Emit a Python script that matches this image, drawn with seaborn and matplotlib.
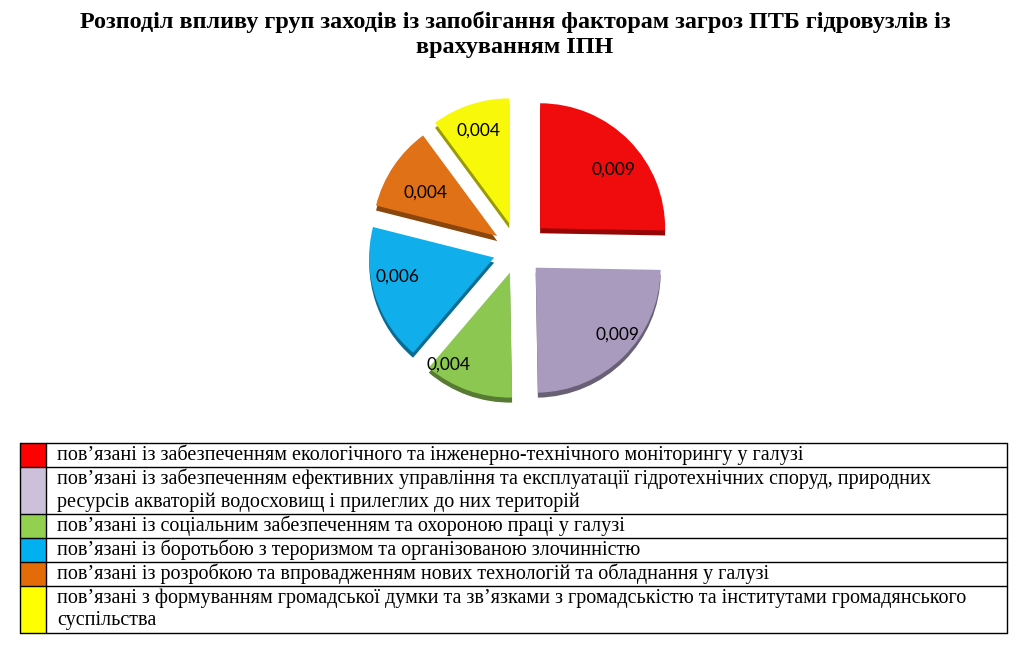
import numpy as np
import matplotlib
matplotlib.use("Agg")
import matplotlib.pyplot as plt
import matplotlib.colors as mcolors
from matplotlib.patches import Rectangle
import seaborn as sns

# ---------------- data ----------------
title_lines = ["Розподіл впливу груп заходів із запобігання факторам загроз ПТБ гідровузлів із",
               "врахуванням ІПН"]
categories = [
    ["пов’язані із забезпеченням екологічного та інженерно-технічного моніторингу у галузі"],
    ["пов’язані із забезпеченням ефективних управління та експлуатації гідротехнічних споруд, природних",
     "ресурсів акваторій водосховищ і прилеглих до них територій"],
    ["пов’язані із соціальним забезпеченням та охороною праці у галузі"],
    ["пов’язані із боротьбою з тероризмом та організованою злочинністю"],
    ["пов’язані із розробкою та впровадженням нових технологій та обладнання у галузі"],
    ["пов’язані з формуванням громадської думки та зв’язками з громадськістю та інститутами громадянського",
     "суспільства"],
]
values = [0.0090, 0.0087, 0.0041, 0.0063, 0.0039, 0.0036]
slice_colors = ["#F00C0C", "#A99BBE", "#8CC751", "#10AEEA", "#E07117", "#F8F80A"]
legend_colors = ["#FF0000", "#CCC0DA", "#92D050", "#00B0F0", "#E36C09", "#FFFF00"]

# ---------------- style ----------------
sns.set_theme(style="white")
plt.rcParams['font.family'] = ['Liberation Serif', 'DejaVu Serif']
plt.rcParams['text.color'] = 'black'

W, H = 1027, 648
fig = plt.figure(figsize=(W / 100, H / 100), dpi=100)
fig.patch.set_facecolor("white")
ax = fig.add_axes([0, 0, 1, 1])

# ---------------- pie ----------------
cx, cy = 518, H - 250
R = 125
explode = [31, 25, 24, 25, 25, 28]
label_nudge = [(4, -10), (13, 2), (-29, 0), (-4, 11), (9, -11), (0, 0)]
total = sum(values)


def darken(c, f=0.62):
    r, g, b = mcolors.to_rgb(c)
    return (r * f, g * f, b * f)


# depth (3D side) layer
ax.pie(values, colors=[darken(c) for c in slice_colors], startangle=90, counterclock=False,
       explode=explode, radius=R, center=(cx, cy - 5), frame=True,
       wedgeprops=dict(linewidth=0))
# top layer with data labels
wedges, texts, autotexts = ax.pie(
    values, colors=slice_colors, startangle=90, counterclock=False,
    explode=explode, radius=R, center=(cx, cy), frame=True,
    wedgeprops=dict(linewidth=0),
    autopct=lambda p: f"{p * total / 100:.3f}".replace(".", ","),
    pctdistance=0.78,
    textprops=dict(family=["Lato", "DejaVu Sans"], fontsize=12.5, color="black"))
for t, (dx, dy) in zip(autotexts, label_nudge):
    x, y = t.get_position()
    t.set_position((x + dx, y + dy))

# ---------------- title ----------------
ax.text(515, H - 22, title_lines[0], ha="center", va="center", fontsize=17.4, fontweight="bold",
        color="black")
ax.text(515, H - 47, title_lines[1], ha="center", va="center", fontsize=17.4, fontweight="bold",
        color="black")

# ---------------- legend table ----------------
row_edges = [443, 467, 514, 538, 562, 586, 633]
x_left, x_sep, x_right = 20, 46, 1007
for i, (lines, col) in enumerate(zip(categories, legend_colors)):
    top, bot = row_edges[i], row_edges[i + 1]
    ax.add_patch(Rectangle((x_left, H - bot), x_sep - x_left, bot - top,
                           facecolor=col, edgecolor="none", zorder=2))
    for j, ln in enumerate(lines):
        yc = top + 12 + j * 23
        ax.text(57, H - yc, ln, ha="left", va="center", fontsize=14.5, color="black", zorder=3)

lw = 1.0
for y in row_edges:
    ax.plot([x_left, x_right], [H - y, H - y], color="black", lw=lw, zorder=4)
for x in (x_left, x_sep, x_right):
    ax.plot([x, x], [H - row_edges[0], H - row_edges[-1]], color="black", lw=lw, zorder=4)

ax.set_xlim(0, W)
ax.set_ylim(0, H)
ax.set_aspect("auto")
ax.axis("off")

fig.savefig("out.png", dpi=100, facecolor="white")
